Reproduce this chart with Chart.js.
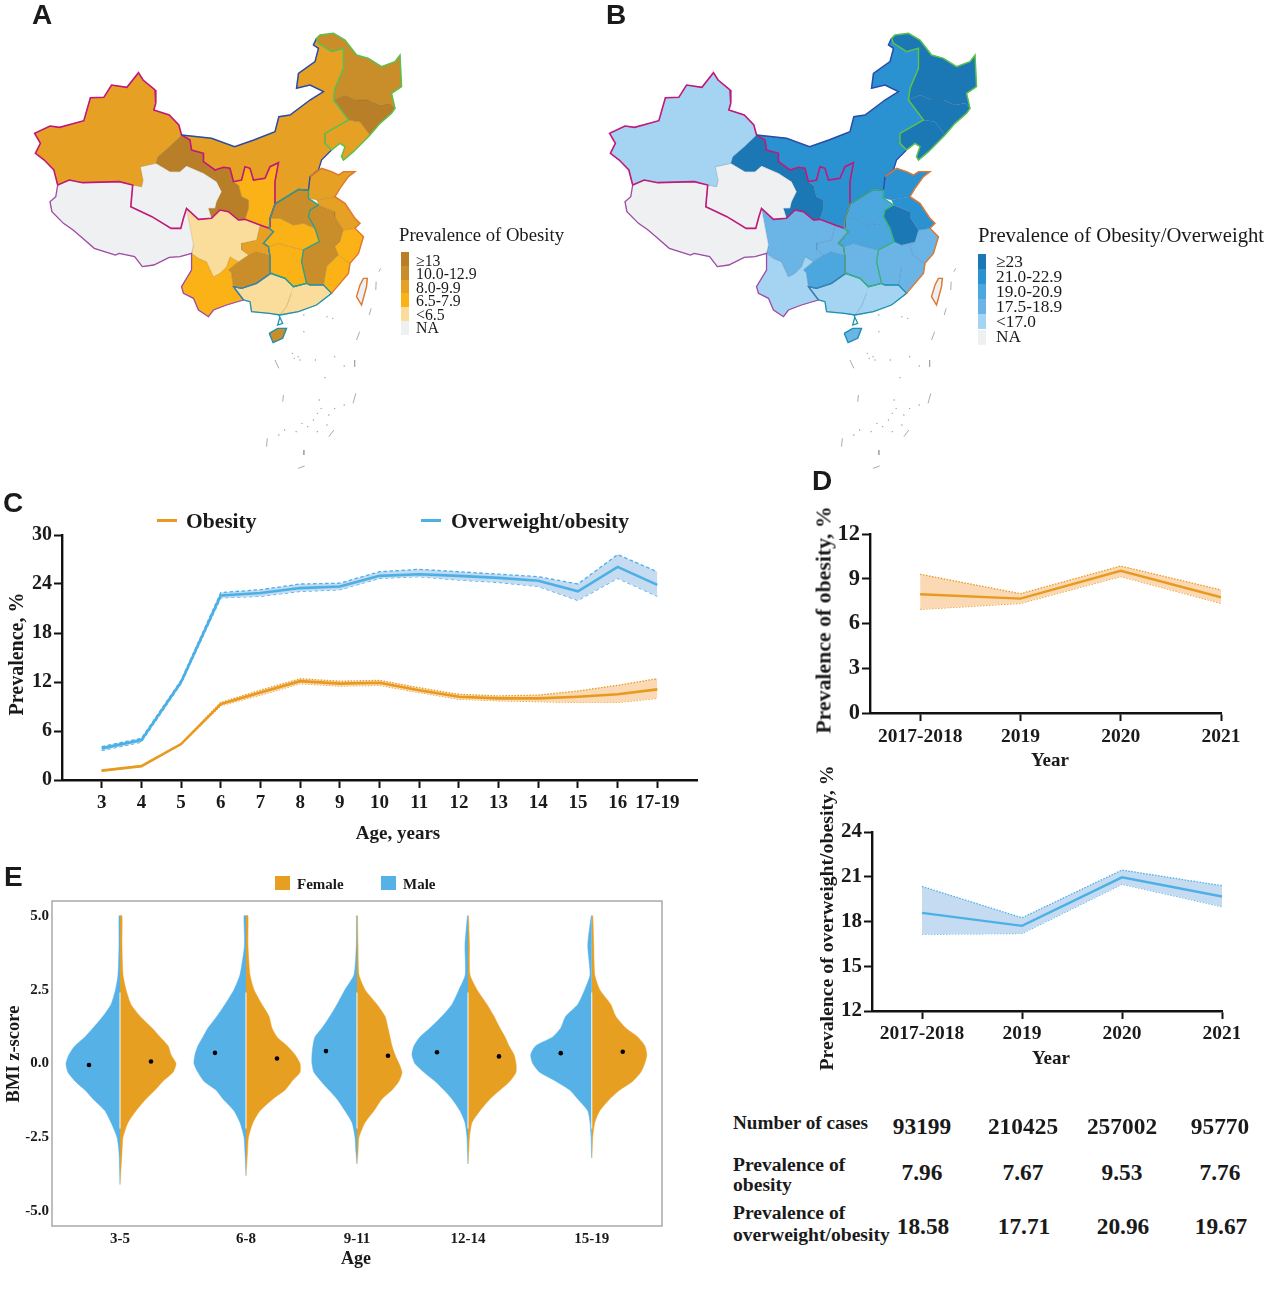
<!DOCTYPE html>
<html><head><meta charset="utf-8">
<style>
html,body{margin:0;padding:0;background:#fff;width:1266px;height:1316px;overflow:hidden}
#root{position:relative;width:1266px;height:1316px;font-family:"Liberation Serif",serif;color:#1a1a1a}
canvas{position:absolute}
.t{position:absolute;white-space:nowrap;line-height:1}
</style>
<script src="https://cdn.jsdelivr.net/npm/chart.js@4"></script>
</head><body><div id="root"></div>
<script>
/* ---------- values ---------- */
const ageLabels=['3','4','5','6','7','8','9','10','11','12','13','14','15','16','17-19'];
const overObese=[3.87,4.88,12.0,22.6,22.9,23.5,23.7,25.0,25.2,25.0,24.75,24.4,23.1,26.1,23.9];
const overObeseHi=[4.1,5.1,12.2,22.95,23.3,24.0,24.1,25.5,25.8,25.5,25.2,24.9,24.0,27.6,25.5];
const overObeseLo=[3.6,4.65,11.8,22.3,22.5,23.1,23.3,24.7,24.9,24.5,24.2,23.7,22.0,24.7,22.5];
const obese=[1.15,1.7,4.4,9.3,10.7,12.1,11.8,11.9,11.0,10.2,10.0,10.0,10.2,10.5,11.1];
const obeseHi=[1.2,1.75,4.45,9.5,11.0,12.4,12.1,12.2,11.3,10.5,10.3,10.4,10.9,11.6,12.4];
const obeseLo=[1.1,1.65,4.35,9.1,10.4,11.8,11.5,11.6,10.7,9.9,9.7,9.6,9.5,9.5,10.0];

const yearLabels=['2017-2018','2019','2020','2021'];
const yearObese=[7.96,7.67,9.53,7.76];
const yearObeseHi=[9.3,8.0,9.85,8.25];
const yearObeseLo=[6.95,7.35,9.15,7.35];
const yearOver=[18.58,17.71,20.96,19.67];
const yearOverHi=[20.35,18.25,21.45,20.4];
const yearOverLo=[17.15,17.2,20.5,19.0];

const tableCases=['93199','210425','257002','95770'];
const tableObese=['7.96','7.67','9.53','7.76'];
const tableOver=['18.58','17.71','20.96','19.67'];

const violinAges=['3-5','6-8','9-11','12-14','15-19'];
const violinPos=[1,2.135,3.135,4.135,5.25];
const violinZ=[5,4,3,2.5,2,1.6,1.2,.9,.6,.3,0,-.3,-.6,-.9,-1.2,-1.6,-2,-2.5,-3];
const violinEnd=[-4.1,-3.8,-3.4,-3.4,-3.2];
const maleW=[
 [1,1,2,4.5,9,17,27,35,45,51,54,52,45,35,27,15,9,3,1],
 [2,1.5,6,12,21,29,38,43,48,51,52,48,42,30,23,12,6,2,1],
 [.5,.7,3,12,20,27,35,42,44,45,45,43,36,28,20,12,5,2,1],
 [.5,3,2.7,9,16,26,38,48,54,56,53,44,33,24,16,8,3,1,.5],
 [.5,4,1.7,7,14,26,31,39,56,61,59,52,36,22,14,4,1.7,.7,.3]];
const femaleW=[
 [2,2,3,6,11,20,32,40,48,51,56,53,43,35,26,16,8,3,2],
 [2,2,4,8,16,23,26,31,41,49,54,54,46,39,27,14,7,2.5,1.5],
 [.5,1,2,8,20,28,31,33,35,38,42,45,42,35,25,17,8,2,1],
 [.5,1.5,2,9,19,26,32,37,41,46,48,48,42,32,22,12,4,1.5,.7],
 [1,2,3,8,19,24,34,46,53,55,53,49,41,28,18,8,3,1,.4]];
const maleMean=[-.05,.36,.42,.38,.35];
const femaleMean=[.07,.17,.26,.24,.40];
const meanOffset=31;

/* map outlines, in map units */
const xinjiang=[[90,400],[130,378],[155,382],[218,362],[235,293],[270,292],[290,255],[330,262],[360,218],[372,240],[403,270],[405,310],[400,330],[440,345],[465,375],[472,405],[440,440],[410,470],[405,490],[365,500],[372,540],[368,560],[345,555],[310,545],[215,548],[180,540],[150,555],[140,510],[115,480],[92,460],[105,430]];
const tibet=[[150,555],[180,540],[215,548],[310,545],[345,555],[340,620],[395,650],[445,685],[470,685],[477,655],[485,625],[503,735],[498,760],[468,770],[440,772],[400,795],[370,800],[350,770],[310,760],[300,765],[245,745],[215,715],[190,690],[165,670],[135,635],[130,605],[145,590]];
const qinghai=[[365,500],[405,490],[442,515],[468,515],[485,498],[529,520],[563,545],[576,575],[563,605],[559,625],[542,625],[550,655],[516,658],[485,625],[477,655],[470,685],[445,685],[395,650],[340,620],[345,555],[368,560],[372,540]];
const gansu=[[472,405],[440,440],[410,470],[405,490],[442,515],[468,515],[485,498],[529,520],[563,545],[576,575],[563,605],[559,625],[542,625],[550,655],[572,630],[594,635],[620,660],[637,658],[646,625],[646,600],[628,590],[620,555],[607,545],[598,505],[581,502],[559,510],[529,485],[529,460],[498,450],[494,420]];
const shaanxi=[[607,545],[628,540],[637,500],[650,505],[659,540],[689,535],[702,500],[724,488],[715,545],[715,612],[702,655],[702,680],[700,685],[676,675],[637,658],[646,625],[646,600],[628,590],[620,555]];
const ningxia=[[643,560],[659,555],[680,570],[678,600],[650,605],[641,580]];
const neimenggu=[[472,405],[550,415],[610,440],[660,420],[715,395],[725,350],[754,345],[806,300],[841,275],[806,255],[771,265],[776,220],[819,185],[828,145],[815,135],[823,115],[828,130],[849,145],[862,155],[893,145],[893,205],[871,265],[867,300],[906,360],[845,400],[845,430],[862,450],[836,480],[828,510],[806,530],[802,570],[776,568],[715,612],[715,545],[724,488],[702,500],[689,535],[659,540],[650,505],[637,500],[628,540],[607,545],[598,505],[581,502],[559,510],[529,485],[529,460],[498,450],[494,420]];
const shanxi=[[724,488],[763,465],[771,520],[754,560],[715,612],[715,545]];
const hebei=[[767,420],[793,410],[828,435],[836,475],[828,510],[806,530],[802,570],[776,568],[715,612],[754,560],[771,520],[763,465]];
const beijing=[[793,450],[823,445],[823,465],[815,480],[797,475]];
const heilongjiang=[[823,115],[832,105],[867,100],[897,120],[927,165],[958,175],[992,200],[1027,185],[1040,165],[1044,260],[1018,280],[1027,325],[1014,310],[988,315],[958,300],[927,300],[897,285],[867,300],[871,265],[893,205],[893,145],[862,155],[849,145],[828,130]];
const jilin=[[867,300],[897,285],[927,300],[958,300],[988,315],[1014,310],[1027,325],[1018,340],[988,370],[962,405],[936,365],[906,360]];
const liaoning=[[906,360],[936,365],[962,405],[919,455],[893,480],[888,470],[897,440],[884,430],[862,450],[845,430],[845,400]];
const shandong=[[802,570],[806,530],[836,505],[862,515],[880,525],[893,515],[923,515],[906,530],[884,565],[871,590],[823,600],[802,595]];
const henan=[[715,612],[776,568],[802,570],[802,595],[828,615],[806,630],[802,650],[819,685],[789,670],[763,675],[728,655],[702,655]];
const jiangsu=[[823,600],[871,590],[897,610],[923,655],[936,670],[923,685],[893,690],[871,650],[871,635],[828,615]];
const anhui=[[806,630],[828,615],[871,635],[871,650],[893,690],[884,725],[849,735],[830,725],[819,685],[802,650]];
const zhejiang=[[893,690],[923,685],[945,710],[932,760],[910,790],[880,765],[871,740],[884,725]];
const hubei=[[702,655],[728,655],[763,675],[789,670],[819,685],[830,725],[789,750],[754,740],[724,730],[698,740],[685,730],[711,695],[700,685],[702,680]];
const hunan=[[698,740],[724,730],[754,740],[789,750],[784,785],[797,850],[763,860],[741,835],[704,820],[702,770]];
const jiangxi=[[830,725],[849,735],[884,725],[871,740],[880,765],[849,800],[841,855],[806,855],[797,850],[784,785],[789,750]];
const fujian=[[880,765],[910,790],[906,820],[862,880],[841,855],[849,800]];
const guangdong=[[763,860],[797,850],[806,855],[841,855],[862,880],[823,915],[776,935],[728,945],[745,920],[758,880]];
const guangxi=[[607,860],[628,865],[667,850],[704,820],[741,835],[763,860],[758,880],[745,920],[728,945],[700,940],[654,935],[650,905],[633,900]];
const hainan=[[700,1000],[722,985],[745,985],[735,1015],[710,1028]];
const sichuan=[[485,625],[516,658],[550,655],[572,630],[594,635],[620,660],[637,658],[676,675],[667,720],[628,730],[628,750],[646,765],[620,785],[598,770],[589,800],[572,820],[555,830],[537,785],[516,775],[498,760],[503,735]];
const chongqing=[[628,730],[667,720],[676,675],[700,685],[711,695],[685,730],[698,740],[702,770],[698,765],[666,755],[646,765],[628,750]];
const guizhou=[[594,810],[620,785],[646,765],[666,755],[698,765],[702,770],[704,820],[667,850],[628,865],[607,860],[602,820]];
const yunnan=[[498,760],[516,775],[537,785],[555,830],[572,820],[589,800],[598,770],[620,785],[594,810],[602,820],[607,860],[633,900],[589,915],[555,930],[542,950],[516,930],[503,895],[477,880],[472,860],[498,810]];
const taiwan=[[936,855],[945,835],[955,835],[953,860],[940,915],[927,890]];
const provinceShapes=[xinjiang,tibet,qinghai,neimenggu,gansu,shaanxi,ningxia,shanxi,hebei,beijing,heilongjiang,jilin,liaoning,shandong,henan,jiangsu,anhui,zhejiang,hubei,hunan,jiangxi,fujian,guangdong,guangxi,hainan,sichuan,chongqing,guizhou,yunnan,taiwan];
const obesityClass=[2,5,5,2,0,3,1,2,2,2,1,0,2,2,1,2,1,3,3,3,1,3,4,4,1,4,2,1,3,5];
const overClass=[4,5,5,1,0,1,0,3,1,3,0,0,0,1,2,1,0,3,2,3,3,3,4,4,3,3,3,2,4,5];
const obesityColors=['#B97F28','#C98E2A','#E6A023','#FBB216','#FBDD9B','#EEF0F1'];
const overColors=['#1C78B4','#2B92D2','#4BA7DE','#6BB4E6','#A5D4F2','#EEF0F1'];
const obesityLegend=['≥13','10.0-12.9','8.0-9.9','6.5-7.9','<6.5','NA'];
const overLegend=['≥23','21.0-22.9','19.0-20.9','17.5-18.9','<17.0','NA'];

const borderNW=[[150,555],[140,510],[115,480],[92,460],[105,430],[90,400],[130,378],[155,382],[218,362],[235,293],[270,292],[290,255],[330,262],[360,218],[372,240],[403,270],[405,310],[400,330],[440,345],[465,375],[472,405],[494,420],[498,450],[529,460],[529,485],[559,510],[581,502],[598,505],[607,545],[628,540],[637,500],[650,505],[659,540],[689,535],[702,500],[724,488],[715,545],[715,612],[702,655],[702,680],[700,685],[676,675],[637,658],[620,660],[594,635],[572,630],[550,655],[516,658],[485,625],[477,655],[470,685],[445,685],[395,650],[340,620],[345,555],[310,545],[215,548],[180,540],[150,555]];
const borderSW=[[150,555],[145,590],[130,605],[135,635],[165,670],[190,690],[215,715],[245,745],[300,765],[310,760],[350,770],[370,800],[400,795],[440,772],[468,770],[498,760],[498,810],[472,860],[477,880],[503,895],[516,930],[542,950],[555,930],[589,915],[633,900],[607,860],[628,865],[667,850],[704,820],[702,770],[698,740],[685,730],[711,695],[700,685]];
const borderN=[[472,405],[550,415],[610,440],[660,420],[715,395],[725,350],[754,345],[806,300],[841,275],[806,255],[771,265],[776,220],[819,185],[828,145],[815,135],[823,115]];
const borderN2=[[862,450],[836,480],[828,510],[806,530],[802,570],[776,568],[715,612]];
const borderNE=[[823,115],[832,105],[867,100],[897,120],[927,165],[958,175],[992,200],[1027,185],[1040,165],[1044,260],[1018,280],[1027,325],[1018,340],[988,370],[962,405],[919,455],[893,480],[888,470],[897,440],[884,430],[862,450],[845,430],[845,400],[906,360],[867,300],[871,265],[893,205],[893,145],[862,155],[849,145],[828,130],[823,115]];
const borderE=[[806,530],[836,505],[862,515],[880,525],[893,515],[923,515],[906,530],[884,565],[871,590],[897,610],[923,655],[936,670],[923,685],[945,710],[932,760],[910,790],[906,820],[862,880]];
const borderC=[[715,612],[776,568],[802,570],[802,595],[828,615],[806,630],[802,650],[819,685],[830,725],[789,750],[784,785],[797,850],[763,860],[741,835],[704,820],[702,770],[698,740],[685,730],[711,695],[700,685],[702,655],[715,612]];
const borderS=[[607,860],[628,865],[667,850],[704,820],[741,835],[763,860],[797,850],[806,855],[841,855],[862,880],[823,915],[776,935],[728,945],[700,940],[654,935],[650,905],[633,900],[607,860]];
const leizhou=[[725,945],[735,970],[722,975],[728,950]];
const islandDashes=[[[715,1080],[725,1105]],[[922,1080],[922,1100]],[[737,1185],[735,1205]],[[925,1180],[918,1210]],[[695,1315],[693,1340]],[[868,1290],[855,1310]],[[790,1350],[790,1365]],[[775,1405],[792,1398]],[[935,995],[927,1020]],[[978,845],[977,870]],[[965,925],[960,945]],[[990,805],[985,815]]];
const islandDots=[[760,1060],[765,1075],[775,1070],[780,1080],[820,1080],[870,1070],[895,1098],[845,1133],[830,1200],[835,1225],[825,1240],[855,1245],[870,1225],[895,1215],[815,1260],[785,1270],[770,1295],[740,1290],[725,1305],[800,1280],[825,1295],[850,1275],[790,945],[865,955],[850,950],[790,995]];

/* ---------- helpers ---------- */
const root=document.getElementById('root');
Chart.defaults.animation=false;
Chart.defaults.devicePixelRatio=1;
Chart.defaults.responsive=false;
Chart.defaults.font.family='"Liberation Serif",serif';
Chart.defaults.plugins.legend.display=false;
Chart.defaults.plugins.tooltip.enabled=false;
Chart.defaults.layout.autoPadding=false;
const SERIF='"Liberation Serif",serif', SANS='"Liberation Sans",sans-serif';
function text(s,x,y,size,o={}){
  const d=document.createElement('div');d.className='t';d.textContent=s;
  d.style.left=x+'px';d.style.top=y+'px';
  d.style.font=(o.weight||'bold')+' '+size+'px '+(o.family||SERIF);
  if(o.color)d.style.color=o.color;
  d.style.transform=(o.center?'translate(-50%,-50%) ':'translateY(-50%) ')+(o.rot?'rotate('+o.rot+'deg) ':'');
  root.appendChild(d);return d;
}
function box(x,y,w,h,c){const d=document.createElement('div');d.style.cssText=`position:absolute;left:${x}px;top:${y}px;width:${w}px;height:${h}px;background:${c}`;root.appendChild(d);return d;}
function canvas(x,y,w,h){const c=document.createElement('canvas');c.width=w;c.height=h;c.style.left=x+'px';c.style.top=y+'px';c.style.width=w+'px';c.style.height=h+'px';root.appendChild(c);return c;}
const pts=a=>a.map(p=>({x:p[0],y:p[1]}));
const series=a=>a.map((v,i)=>({x:i,y:v}));
const fitBox=(s,w,h)=>{if(w)s.width=w;if(h)s.height=h;s.paddingLeft=s.paddingRight=s.paddingTop=s.paddingBottom=0;};

/* ---------- maps ---------- */
function mapChart(left,classes,colors,edge,inner){
  const ds=[];
  const line=(shape,color,w)=>ds.push({data:pts(shape),showLine:true,fill:false,borderColor:color,borderWidth:w,pointRadius:0,order:0,tension:0});
  line(borderE,edge.east,1.4);line(taiwan.concat([taiwan[0]]),'#E07830',1.4);
  line(borderNE,'#5CC04F',1.5);
  line(borderC,edge.central,1.3);
  line(borderS,'#1E90B0',1.3);line(hainan.concat([hainan[0]]),'#1E90B0',1.4);line(leizhou,'#1E90B0',1.3);
  line(borderN,'#2A4CA8',1.5);line(borderN2,'#2A4CA8',1.3);
  line(borderNW,'#C2187B',1.6);
  line(borderSW,'#A04CA6',1.3);
  islandDashes.forEach(d=>line(d,'#9AA5A5',.9));
  ds.push({data:pts(islandDots),showLine:false,pointRadius:.7,pointBackgroundColor:'#8E9C9C',pointBorderWidth:0,order:0});
  provinceShapes.forEach((s,i)=>{
    ds.push({data:pts(s),showLine:true,fill:'shape',backgroundColor:colors[classes[i]],borderColor:inner,borderWidth:.6,pointRadius:0,order:1,tension:0});
  });
  new Chart(canvas(left,0,600,480),{type:'scatter',data:{datasets:ds},options:{
    layout:{padding:0},
    scales:{x:{display:false,min:0,max:1560},y:{display:false,min:0,max:1440,reverse:true}}}});
}
mapChart(0,obesityClass,obesityColors,{central:'#2AA090',east:'#E07830'},'rgba(140,105,40,.4)');
mapChart(575,overClass,overColors,{central:'#35B57A',east:'#E07830'},'rgba(60,110,150,.4)');

/* map legends */
text('Prevalence of Obesity',399,235,18.7,{weight:'normal'});
obesityLegend.forEach((s,i)=>{box(401,252+i*13.8,8,13.8,obesityColors[i]);text(s,416,260.5+i*13.5,15.8,{weight:'normal'});});
text('Prevalence of Obesity/Overweight',978,235,20.7,{weight:'normal'});
overLegend.forEach((s,i)=>{box(978,254+i*15.1,8,15.1,overColors[i]);text(s,996,261.5+i*15.1,17.3,{weight:'normal'});});

/* ---------- line panels ---------- */
const ORANGE='#E89A1F',BLUE='#4CB0E6',ORANGEBAND='#FBD9B4',BLUEBAND='#C5DBF1';
function band(mean,hi,lo,color,bandColor,dash,w){
  return [
   {data:series(mean),borderColor:color,borderWidth:w,pointRadius:0,fill:false,tension:0},
   {data:series(hi),borderColor:color,borderWidth:1.3,borderDash:dash,pointRadius:0,fill:'+1',backgroundColor:bandColor,tension:0},
   {data:series(lo),borderColor:color,borderWidth:1.3,borderDash:dash,pointRadius:0,fill:false,tension:0}];
}
function axisOpts(){return{
  grid:{display:true,drawOnChartArea:false,drawTicks:true,tickLength:8,tickWidth:2,tickColor:'#111'},
  border:{display:true,color:'#111',width:2.4}};}
function linePanel(cv,datasets,o){
  new Chart(cv,{type:'line',data:{datasets},options:{
    layout:{padding:{top:o.top,right:o.right,left:0,bottom:0}},
    scales:{
      x:{type:'linear',min:o.xmin,max:o.xmax,...axisOpts(),
        afterBuildTicks:s=>{s.ticks=o.labels.map((_,i)=>({value:i}));},
        afterFit:s=>fitBox(s,0,o.xh),
        ticks:{autoSkip:false,maxRotation:0,minRotation:0,padding:o.xpad,color:'#1a1a1a',font:{size:o.tick,weight:'bold',family:SERIF},callback:v=>o.labels[v]}},
      y:{type:'linear',min:o.ymin,max:o.ymax,...axisOpts(),
        afterBuildTicks:s=>{s.ticks=o.yticks.map(v=>({value:v}));},
        afterFit:s=>fitBox(s,o.yw,0),
        ticks:{padding:2,color:'#1a1a1a',font:{size:o.ytick||o.tick,weight:'bold',family:SERIF},callback:v=>String(v)}}
    }}});
}
/* C */
linePanel(canvas(0,520,720,330),[
  ...band(overObese,overObeseHi,overObeseLo,BLUE,BLUEBAND,[3.5,2.5],2.6),
  ...band(obese,obeseHi,obeseLo,ORANGE,ORANGEBAND,[1.5,1.5],2.6)
],{top:15,right:23,xmin:-1,xmax:15,ymin:0,ymax:30,yticks:[0,6,12,18,24,30],labels:ageLabels,xh:70,yw:62,tick:19,ytick:20,xpad:4});
text('Prevalence, %',16,654,20,{center:true,rot:-90});
text('Age, years',398,833,19,{center:true});
box(157,519,20,3,ORANGE);text('Obesity',186,521,21.5);
box(421,519,20,3,BLUE);text('Overweight/obesity',451,521,21.5);

/* D */
linePanel(canvas(800,520,440,270),band(yearObese,yearObeseHi,yearObeseLo,ORANGE,ORANGEBAND,[1.5,1.5],2.4),
 {top:14,right:19,xmin:-.5,xmax:3,ymin:0,ymax:12,yticks:[0,3,6,9,12],labels:yearLabels,xh:77,yw:70,tick:19.5,ytick:22.5,xpad:4});
text('Prevalence of obesity, %',824,620,21.8,{center:true,rot:-90});
text('Year',1050,760,19,{center:true});
linePanel(canvas(800,820,440,270),band(yearOver,yearOverHi,yearOverLo,BLUE,BLUEBAND,[1.5,1.5],2.4),
 {top:12,right:18,xmin:-.5,xmax:3,ymin:12,ymax:24,yticks:[12,15,18,21,24],labels:yearLabels,xh:79,yw:72,tick:19.5,ytick:21,xpad:3});
text('Prevalence of overweight/obesity, %',826,918,19.8,{center:true,rot:-90});
text('Year',1051,1058,19,{center:true});

/* table */
const colX=[922,1023,1122,1220];
text('Number of cases',733,1123,19.2);
text('Prevalence of',733,1165,19.6);text('obesity',733,1185,19.6);
text('Prevalence of',733,1213,19.6);text('overweight/obesity',733,1235,19.6);
tableCases.forEach((s,i)=>text(s,colX[i],1126,23.4,{center:true}));
tableObese.forEach((s,i)=>text(s,colX[i],1172,23.4,{center:true}));
tableOver.forEach((s,i)=>text(s,colX[i]+1,1226,23.4,{center:true}));

/* ---------- E violins ---------- */
const PXU=111, MALE='#56B1E6', FEMALE='#E79F22';
const vds=[];
const vshape=(i,w,sign)=>{
  const c=violinPos[i];
  const a=[{x:c,y:violinZ[0]}];
  violinZ.forEach((z,k)=>a.push({x:c+sign*w[k]/PXU,y:z}));
  a.push({x:c,y:violinEnd[i]});
  return a;
};
violinPos.forEach((c,i)=>{
  vds.push({data:[{x:c+meanOffset/PXU,y:femaleMean[i]},{x:c-meanOffset/PXU,y:maleMean[i]}],showLine:false,pointRadius:2.3,pointBackgroundColor:'#000',pointBorderWidth:0,order:0});
  vds.push({data:[{x:c,y:2.4},{x:c,y:-2.2}],showLine:true,borderColor:'rgba(255,255,255,.5)',borderWidth:.8,pointRadius:0,fill:false,order:0});
  vds.push({data:vshape(i,maleW[i],-1),showLine:true,fill:'shape',backgroundColor:MALE,borderColor:MALE,borderWidth:.5,pointRadius:0,tension:.2,order:1});
  vds.push({data:vshape(i,femaleW[i],1),showLine:true,fill:'shape',backgroundColor:FEMALE,borderColor:FEMALE,borderWidth:.5,pointRadius:0,tension:.2,order:1});
});
const frame={id:'frame',afterDraw(ch){const a=ch.chartArea,g=ch.ctx;g.save();g.strokeStyle='#A9A9A9';g.lineWidth=1.5;g.strokeRect(a.left,a.top,a.width,a.height);g.restore();}};
new Chart(canvas(0,890,680,360),{type:'scatter',data:{datasets:vds},plugins:[frame],options:{
  layout:{padding:{top:11,right:18,left:0,bottom:0}},
  scales:{
    x:{type:'linear',min:.3874,max:5.883,grid:{display:false,drawTicks:false},border:{display:false},
      afterBuildTicks:s=>{s.ticks=violinPos.map(v=>({value:v}));},
      afterFit:s=>fitBox(s,0,24),
      ticks:{autoSkip:false,maxRotation:0,padding:4,color:'#1a1a1a',font:{size:15,weight:'bold',family:SERIF},callback:v=>violinAges[violinPos.indexOf(v)]}},
    y:{type:'linear',min:-5.5,max:5.5,grid:{display:false,drawTicks:false},border:{display:false},
      afterBuildTicks:s=>{s.ticks=[-5,-2.5,0,2.5,5].map(v=>({value:v}));},
      afterFit:s=>fitBox(s,52,0),
      ticks:{padding:3,color:'#1a1a1a',font:{size:15,weight:'bold',family:SERIF},callback:v=>v.toFixed(1)}}
  }}});
text('BMI z-score',13,1054,18.5,{center:true,rot:-90});
text('Age',356,1258,18,{center:true});
box(275,876,15,14,FEMALE);text('Female',297,884,15);
box(381,876,15,14,MALE);text('Male',403,884,15);

/* panel letters */
[['A',32,15],['B',606,15],['C',3,503],['D',812,481],['E',4,877]].forEach(p=>text(p[0],p[1],p[2],28,{family:SANS}));
</script></body></html>
